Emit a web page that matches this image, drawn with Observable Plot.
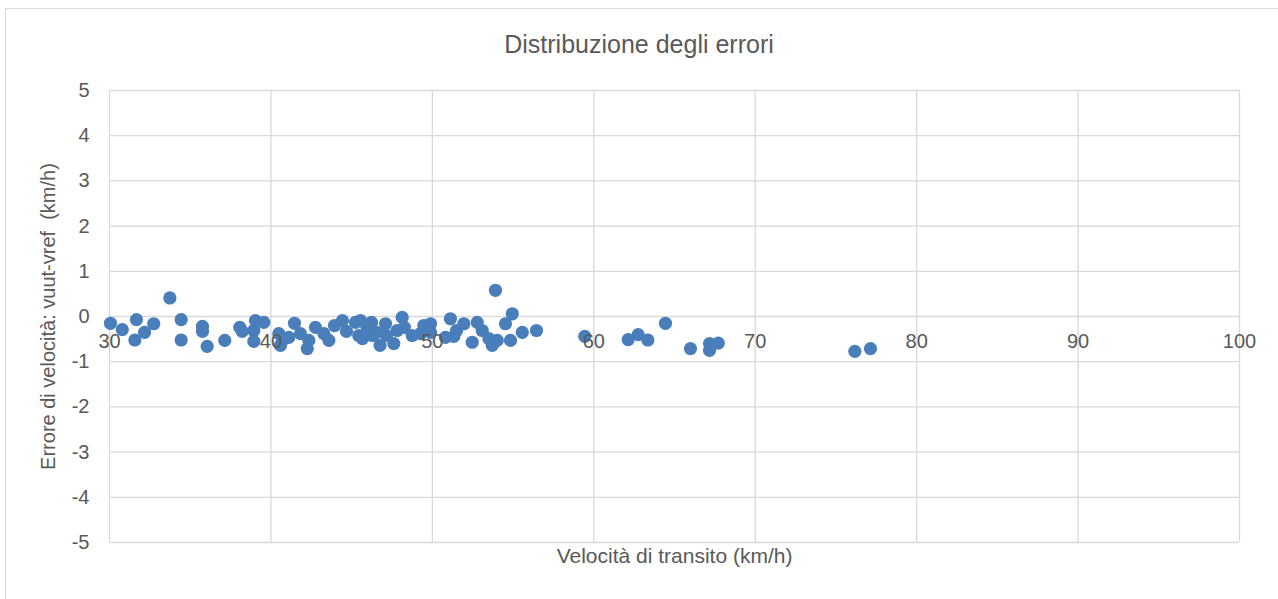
<!DOCTYPE html>
<html>
<head>
<meta charset="utf-8">
<script src="https://cdn.jsdelivr.net/npm/d3@7"></script>
<script src="https://cdn.jsdelivr.net/npm/@observablehq/plot@0.6"></script>
<style>
  html, body { margin: 0; padding: 0; background: #fff; overflow: hidden; }
  body { width: 1278px; height: 599px; position: relative; font-family: "Liberation Sans", Arial, sans-serif; }
  #frame { position: absolute; left: 5px; top: 8px; width: 1290px; height: 620px; border: 1px solid #d9d9d9; box-sizing: border-box; }
  #title { position: absolute; left: 0; top: 29px; width: 1278px; text-align: center; font-size: 25px; color: #595959; line-height: 30px; }
  #chart { position: absolute; left: 0; top: 60px; }
</style>
</head>
<body>
<div id="frame"></div>
<div id="title">Distribuzione degli errori</div>
<div id="chart"></div>
<script>
const speed = [
  30.06, 30.79, 31.67, 31.57, 32.17, 32.74, 33.74, 34.44, 34.44, 35.76,
  35.76, 36.05, 37.14, 38.07, 38.22, 38.94, 38.94, 39.04, 39.56, 40.49,
  40.59, 40.72, 41.11, 41.46, 41.83, 42.25, 42.35, 42.76, 43.28, 43.59,
  43.94, 44.43, 44.68, 45.24, 45.44, 45.55, 45.67, 45.96, 46.23, 46.29,
  46.54, 46.76, 47.10, 47.16, 47.61, 47.82, 48.13, 48.27, 48.75, 49.27,
  49.47, 49.89, 49.89, 50.81, 51.12, 51.50, 51.33, 51.95, 52.47, 52.78,
  53.09, 53.50, 53.71, 53.91, 54.02, 54.53, 54.95, 54.84, 55.57, 56.45,
  59.44, 62.13, 62.75, 63.35, 64.44, 65.99, 67.17, 67.17, 67.71, 76.17,
  77.14
];
const error = [
  -0.15, -0.29, -0.07, -0.52, -0.35, -0.16, 0.41, -0.07, -0.52, -0.22,
  -0.33, -0.66, -0.53, -0.24, -0.33, -0.55, -0.31, -0.09, -0.13, -0.38,
  -0.64, -0.53, -0.46, -0.15, -0.38, -0.71, -0.53, -0.24, -0.38, -0.53,
  -0.20, -0.09, -0.33, -0.13, -0.42, -0.09, -0.49, -0.24, -0.13, -0.42,
  -0.35, -0.64, -0.16, -0.42, -0.60, -0.31, -0.02, -0.24, -0.42, -0.38,
  -0.20, -0.16, -0.35, -0.46, -0.05, -0.31, -0.44, -0.16, -0.57, -0.13,
  -0.31, -0.49, -0.64, 0.58, -0.53, -0.16, 0.06, -0.53, -0.35, -0.31,
  -0.44, -0.51, -0.40, -0.52, -0.15, -0.71, -0.60, -0.75, -0.59, -0.77,
  -0.71
];
const xTicks = [30, 40, 50, 60, 70, 80, 90, 100];
const yTicks = [-5, -4, -3, -2, -1, 0, 1, 2, 3, 4, 5];
const xLabel = "Velocità di transito (km/h)";
const yLabel = "Errore di velocità: vuut-vref\u00a0 (km/h)";

const points = speed.map((s, i) => ({speed: s, error: error[i]}));

const textColor = "#595959";
const gridColor = "#d9d9d9";

const plot = Plot.plot({
  width: 1278,
  height: 539,
  marginLeft: 109,
  marginRight: 39,
  marginTop: 30,
  marginBottom: 57,
  style: {fontFamily: '"Liberation Sans", Arial, sans-serif', fontSize: "20px", color: textColor, background: "transparent", overflow: "visible"},
  x: {domain: [30, 100], axis: null},
  y: {domain: [-5, 5], axis: null},
  marks: [
    Plot.ruleX(xTicks, {x: d => d, stroke: gridColor, strokeWidth: 1.3, strokeOpacity: 1}),
    Plot.ruleY(yTicks, {y: d => d, stroke: gridColor, strokeWidth: 1.3, strokeOpacity: 1}),
    Plot.axisY(yTicks, {tickSize: 0, tickPadding: 20, fontSize: 20, fill: textColor, label: null, tickFormat: d => String(d)}),
    Plot.dot(points, {x: "speed", y: "error", r: 6.6, fill: "#4a7ebb", stroke: "none"}),
    Plot.text(xTicks, {x: d => d, y: 0, text: d => String(d), dy: 25, fontSize: 20, fill: textColor}),
    Plot.text([xLabel], {frameAnchor: "bottom", textAnchor: "middle", text: d => d, dy: 20, fontSize: 21, fill: textColor}),
    Plot.text([yLabel], {frameAnchor: "left", textAnchor: "middle", text: d => d, rotate: -90, dx: -61, fontSize: 20, fill: textColor})
  ]
});
document.getElementById("chart").appendChild(plot);
</script>
</body>
</html>
